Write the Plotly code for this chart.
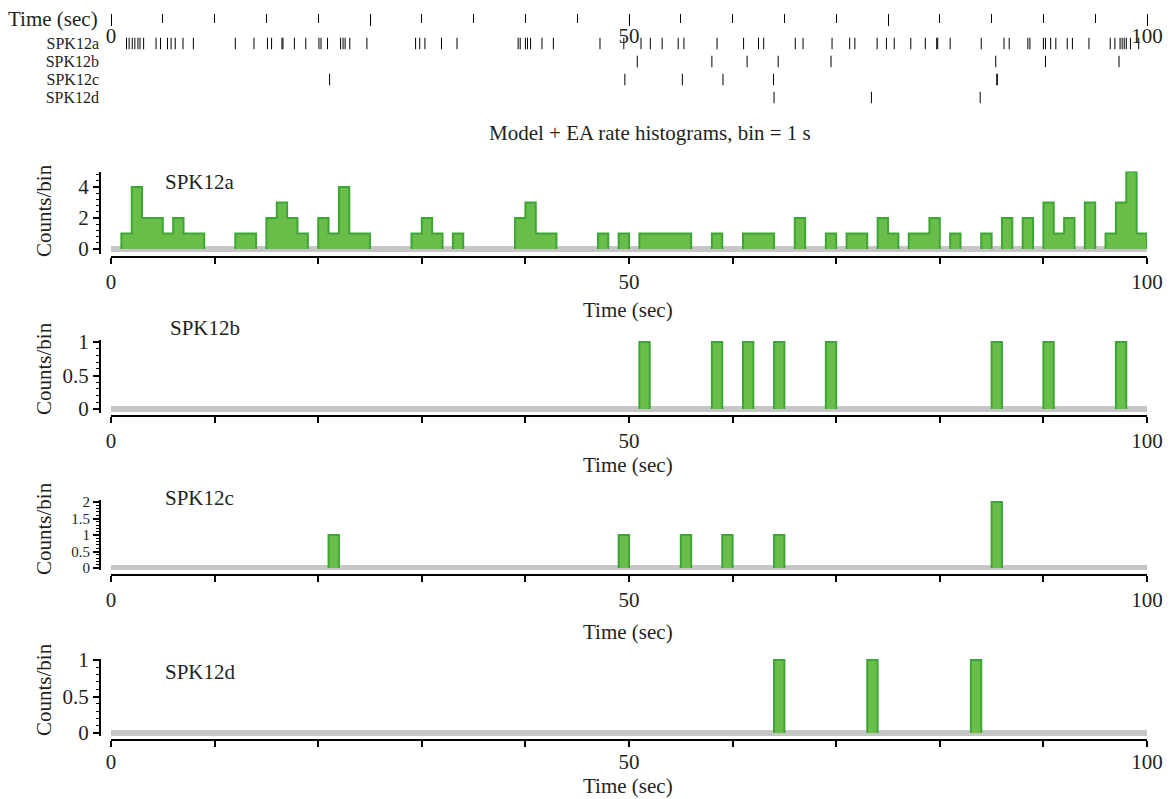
import plotly.graph_objects as go

W, H = 1176, 799
FONT = "Liberation Serif"
FS = 21
TXT = "#231f20"
FILL = "#68be48"
EDGE = "#3da634"
BAND = "#c6c6c6"

T_START, T_END, BIN = 0, 100, 1
neurons = ["SPK12a", "SPK12b", "SPK12c", "SPK12d"]
title_text = "Model + EA rate histograms, bin = 1 s"
x_title = "Time (sec)"
y_title = "Counts/bin"

# raster spike times (s)
spikes_a = [1.5, 1.75, 2.05, 2.3, 2.6, 2.8, 3.15, 4.35, 4.78, 5.45, 5.8, 6.2, 6.95, 7.95,
            12.0, 13.8, 15.1, 15.5, 16.5, 16.6, 17.7, 18.8,
            20.07, 20.27, 20.9, 22.16, 22.4, 22.6, 23.05, 24.7,
            29.4, 29.8, 30.3, 31.9, 33.4,
            39.3, 39.5, 40.0, 40.2, 40.5, 41.6, 42.7, 47.2, 49.5,
            51.16, 52.06, 53.2, 54.75, 55.3, 58.5, 61.06, 62.5, 63.0, 66.05, 66.8,
            69.6, 71.3, 71.8, 73.95, 74.85, 75.6, 77.2, 78.6, 79.7, 79.8, 81.0,
            84.0, 86.2, 86.7, 88.5, 88.7, 90.0, 90.2, 90.7, 91.2, 92.3, 92.8,
            94.4, 96.45, 96.9, 97.4, 97.6, 97.8, 98.0, 98.4, 99.2]
spikes_b = [50.8, 58.0, 61.4, 64.4, 69.5, 85.4, 90.2, 97.3]
spikes_c = [21.1, 49.6, 55.15, 59.07, 63.95, 85.5, 85.55]
spikes_d = [64.0, 73.4, 83.9]

# histogram counts per 1 s bin (bins 0..99)
counts_a = [0, 1, 4, 2, 2, 1, 2, 1, 1, 0,
            0, 0, 1, 1, 0, 2, 3, 2, 1, 0,
            2, 1, 4, 1, 1, 0, 0, 0, 0, 1,
            2, 1, 0, 1, 0, 0, 0, 0, 0, 2,
            3, 1, 1, 0, 0, 0, 0, 1, 0, 1,
            0, 1, 1, 1, 1, 1, 0, 0, 1, 0,
            0, 1, 1, 1, 0, 0, 2, 0, 0, 1,
            0, 1, 1, 0, 2, 1, 0, 1, 1, 2,
            0, 1, 0, 0, 1, 0, 2, 0, 2, 0,
            3, 1, 2, 0, 3, 0, 1, 3, 5, 1]
counts_b = [0, 0, 0, 0, 0, 0, 0, 0, 0, 0,
            0, 0, 0, 0, 0, 0, 0, 0, 0, 0,
            0, 0, 0, 0, 0, 0, 0, 0, 0, 0,
            0, 0, 0, 0, 0, 0, 0, 0, 0, 0,
            0, 0, 0, 0, 0, 0, 0, 0, 0, 0,
            0, 1, 0, 0, 0, 0, 0, 0, 1, 0,
            0, 1, 0, 0, 1, 0, 0, 0, 0, 1,
            0, 0, 0, 0, 0, 0, 0, 0, 0, 0,
            0, 0, 0, 0, 0, 1, 0, 0, 0, 0,
            1, 0, 0, 0, 0, 0, 0, 1, 0, 0]
counts_c = [0, 0, 0, 0, 0, 0, 0, 0, 0, 0,
            0, 0, 0, 0, 0, 0, 0, 0, 0, 0,
            0, 1, 0, 0, 0, 0, 0, 0, 0, 0,
            0, 0, 0, 0, 0, 0, 0, 0, 0, 0,
            0, 0, 0, 0, 0, 0, 0, 0, 0, 1,
            0, 0, 0, 0, 0, 1, 0, 0, 0, 1,
            0, 0, 0, 0, 1, 0, 0, 0, 0, 0,
            0, 0, 0, 0, 0, 0, 0, 0, 0, 0,
            0, 0, 0, 0, 0, 2, 0, 0, 0, 0,
            0, 0, 0, 0, 0, 0, 0, 0, 0, 0]
counts_d = [0, 0, 0, 0, 0, 0, 0, 0, 0, 0,
            0, 0, 0, 0, 0, 0, 0, 0, 0, 0,
            0, 0, 0, 0, 0, 0, 0, 0, 0, 0,
            0, 0, 0, 0, 0, 0, 0, 0, 0, 0,
            0, 0, 0, 0, 0, 0, 0, 0, 0, 0,
            0, 0, 0, 0, 0, 0, 0, 0, 0, 0,
            0, 0, 0, 0, 1, 0, 0, 0, 0, 0,
            0, 0, 0, 1, 0, 0, 0, 0, 0, 0,
            0, 0, 0, 1, 0, 0, 0, 0, 0, 0,
            0, 0, 0, 0, 0, 0, 0, 0, 0, 0]

y_tickvals = [[0, 2, 4], [0, 0.5, 1], [0, 0.5, 1, 1.5, 2], [0, 0.5, 1]]
y_minor = [0.4, 0.1, 0.1, 0.1]
y_tickfs = [FS, FS, 15, FS]
RASTER_FS = 16

# ---- layout geometry (pixels) ----
def fx(px):
    return px / W

def fy(py):
    return 1 - py / H

X0_PX, X1_PX = 111, 1147
YAX_PX = 100
# (zero px, px per unit, range lo, range hi, x-axis line px, x-title px,
#  panel label x px, panel label y px, y-title centre px, x label standoff)
panels = [
    (249, 15.5, -0.3, 5.0, 256.5, 310, 163, 182, 211, 0),
    (409, 67.0, -0.06, 1.03, 416, 465, 168, 328, 369, 0),
    (568, 33.0, -0.06, 2.06, 575, 632, 163, 498, 529, 0),
    (733, 73.0, -0.04, 1.02, 740, 786, 163, 672, 690, -3),
]

edges = list(range(T_START, T_END + BIN, BIN))


def step_polygons(counts):
    xs, ys = [], []
    i, n = 0, len(counts)
    while i < n:
        if counts[i] == 0:
            i += 1
            continue
        j = i
        while j < n and counts[j] > 0:
            j += 1
        xs.append(edges[i]); ys.append(0)
        for k in range(i, j):
            xs += [edges[k], edges[k + 1]]
            ys += [counts[k], counts[k]]
        xs.append(edges[j]); ys.append(0)
        xs.append(None); ys.append(None)
        i = j
    return xs, ys


def txt(size=FS):
    return dict(family=FONT, size=size, color=TXT)


fig = go.Figure()
all_counts = [counts_a, counts_b, counts_c, counts_d]
all_spikes = [spikes_a, spikes_b, spikes_c, spikes_d]

annotations = []
for p, (counts, spec) in enumerate(zip(all_counts, panels)):
    idx = p + 1
    xa = "x" if idx == 1 else f"x{idx}"
    ya = "y" if idx == 1 else f"y{idx}"
    zero, ppu, lo, hi, xline, xtit, labx, laby, ytit, stand = spec
    fig.add_trace(go.Scatter(x=[T_START, T_END], y=[0, 0], mode="lines",
                             line=dict(color=BAND, width=6), xaxis=xa, yaxis=ya,
                             hoverinfo="skip"))
    xs, ys = step_polygons(counts)
    fig.add_trace(go.Scatter(x=xs, y=ys, mode="lines", fill="toself",
                             fillcolor=FILL, line=dict(color=EDGE, width=2),
                             xaxis=xa, yaxis=ya))
    bottom = zero - lo * ppu
    top = zero - hi * ppu
    xkey = "xaxis" if idx == 1 else f"xaxis{idx}"
    ykey = "yaxis" if idx == 1 else f"yaxis{idx}"
    tv = list(range(0, 101, 10))
    fig.update_layout(**{
        xkey: dict(domain=[fx(X0_PX), fx(X1_PX)], range=[T_START, T_END],
                   anchor="free", position=fy(xline), showgrid=False, zeroline=False,
                   showline=True, linecolor="black", linewidth=2, automargin=False,
                   tickmode="array", tickvals=tv,
                   ticktext=[str(v) if v in (0, 50, 100) else "" for v in tv],
                   ticks="outside", ticklen=6, tickwidth=2, tickcolor="black",
                   ticklabelstandoff=stand, tickfont=txt()),
        ykey: dict(domain=[fy(bottom), fy(top)], range=[lo, hi],
                   anchor="free", position=fx(YAX_PX), showgrid=False, zeroline=False,
                   showline=True, linecolor="black", linewidth=2, automargin=False,
                   tickmode="array", tickvals=y_tickvals[p],
                   ticks="outside", ticklen=6, tickwidth=2, tickcolor="black",
                   minor=dict(ticks="outside", ticklen=3, tickwidth=1, dtick=y_minor[p],
                              tick0=0, tickcolor="black", showgrid=False),
                   tickfont=txt(y_tickfs[p])),
    })
    annotations.append(dict(text=x_title, xref="paper", yref="paper", x=fx(628), y=fy(xtit),
                            xanchor="center", yanchor="middle", showarrow=False, font=txt()))
    annotations.append(dict(text=y_title, xref="paper", yref="paper", x=fx(44),
                            y=fy(ytit), textangle=-90, showarrow=False,
                            xanchor="center", yanchor="middle", font=txt()))
    annotations.append(dict(text=neurons[p], xref="paper", yref="paper", x=fx(labx), y=fy(laby),
                            xanchor="left", yanchor="middle", showarrow=False, font=txt()))

# ---- raster ----
ROW0, ROWSTEP = 43.5, 18
for r, sp in enumerate(all_spikes):
    xs, ys = [], []
    for t in sp:
        xs += [t, t, None]
        ys += [r - 0.32, r + 0.32, None]
    fig.add_trace(go.Scatter(x=xs, y=ys, mode="lines", line=dict(color="black", width=1),
                             xaxis="x5", yaxis="y5", hoverinfo="skip"))

fig.update_layout(
    xaxis5=dict(domain=[fx(X0_PX), fx(X1_PX)], range=[T_START, T_END], anchor="free",
                position=fy(13), side="bottom", showline=False, showgrid=False, zeroline=False,
                automargin=False,
                tickmode="array", tickvals=[0, 25, 50, 75, 100],
                ticktext=["0", "", "50", "", "100"], ticks="outside", ticklen=12, tickwidth=1,
                tickcolor="black", ticklabelstandoff=-8,
                minor=dict(ticks="outside", ticklen=9, tickwidth=1, dtick=5, tick0=0,
                           tickcolor="black", showgrid=False),
                tickfont=txt()),
    yaxis5=dict(domain=[fy(ROW0 + 3.5 * ROWSTEP), fy(ROW0 - 0.5 * ROWSTEP)],
                range=[3.5, -0.5], anchor="free", position=fx(99), showline=False,
                showgrid=False, zeroline=False, automargin=False,
                tickmode="array", tickvals=[0, 1, 2, 3],
                ticktext=neurons, ticks="", tickfont=txt(RASTER_FS)),
)
annotations.append(dict(text=x_title, xref="paper", yref="paper", x=fx(100), y=fy(19),
                        xanchor="right", yanchor="middle", showarrow=False, font=txt()))
annotations.append(dict(text=title_text, xref="paper", yref="paper", x=fx(650), y=fy(133),
                        xanchor="center", yanchor="middle", showarrow=False, font=txt()))

fig.update_layout(template="none", width=W, height=H, margin=dict(l=0, r=0, t=0, b=0, pad=0),
                  paper_bgcolor="white", plot_bgcolor="white", showlegend=False,
                  annotations=annotations)

fig.write_html("out.html")
